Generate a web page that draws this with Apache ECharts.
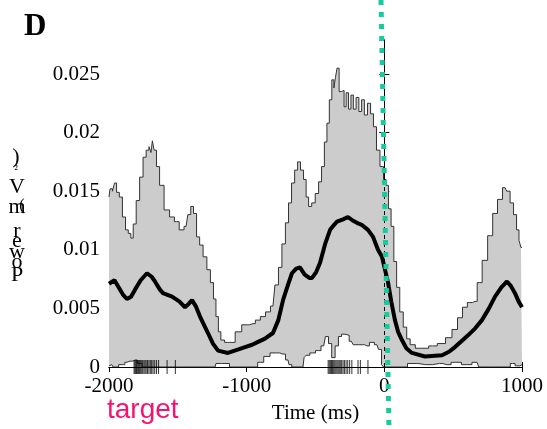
<!DOCTYPE html>
<html>
<head>
<meta charset="utf-8">
<script src="https://cdn.jsdelivr.net/npm/echarts@6/dist/echarts.min.js"></script>
<style>
  html, body { margin: 0; padding: 0; background: #fff; }
  #chart { width: 547px; height: 429px; }
</style>
</head>
<body>
<div id="chart"></div>
<script>
// upper envelope (ms, power)
const upperTimes = [-2000, -1985, -1965, -1955, -1935, -1915, -1890, -1870, -1850, -1833, -1815, -1790, -1765, -1740, -1720, -1700, -1690, -1680, -1665, -1645, -1620, -1580, -1540, -1510, -1470, -1440, -1415, -1397, -1375, -1353, -1330, -1303, -1275, -1252, -1230, -1216, -1195, -1180, -1140, -1107, -1060, -1012, -980, -954, -920, -881, -845, -809, -780, -758, -730, -707, -685, -663, -640, -620, -598, -576, -560, -540, -515, -489, -466, -446, -425, -409, -390, -373, -360, -350, -337, -320, -300, -285, -270, -250, -235, -215, -195, -175, -155, -135, -110, -90, -68, -46, -17, 5, 20, 40, 58, 80, 99, 125, 150, 175, 200, 250, 295, 350, 419, 470, 513, 550, 586, 620, 659, 690, 731, 770, 804, 840, 877, 900, 927, 950, 971, 985, 1000];
const upperValues = [0.0145, 0.0152, 0.0150, 0.0157, 0.0149, 0.0145, 0.0128, 0.0117, 0.0114, 0.0110, 0.0122, 0.0142, 0.0162, 0.0179, 0.0185, 0.0188, 0.0183, 0.0193, 0.0185, 0.0171, 0.0155, 0.0134, 0.0128, 0.0124, 0.0117, 0.0120, 0.0130, 0.0137, 0.0131, 0.0111, 0.0104, 0.0094, 0.0083, 0.0072, 0.0058, 0.0043, 0.0030, 0.0023, 0.0021, 0.0021, 0.0030, 0.0036, 0.0036, 0.0037, 0.0040, 0.0043, 0.0047, 0.0052, 0.0070, 0.0085, 0.0105, 0.0123, 0.0140, 0.0157, 0.0168, 0.0175, 0.0168, 0.0160, 0.0145, 0.0137, 0.0140, 0.0148, 0.0158, 0.0171, 0.0192, 0.0208, 0.0228, 0.0245, 0.0238, 0.0247, 0.0255, 0.0235, 0.0236, 0.0222, 0.0234, 0.0220, 0.0232, 0.0220, 0.0230, 0.0218, 0.0228, 0.0215, 0.0225, 0.0216, 0.0205, 0.0185, 0.0171, 0.0160, 0.0155, 0.0135, 0.0120, 0.0090, 0.0068, 0.0047, 0.0034, 0.0024, 0.0019, 0.0016, 0.0016, 0.0018, 0.0020, 0.0025, 0.0032, 0.0042, 0.0051, 0.0055, 0.0056, 0.0072, 0.0091, 0.0112, 0.0131, 0.0143, 0.0153, 0.0150, 0.0140, 0.0130, 0.0117, 0.0108, 0.0102];

// mean power
const meanTimes = [-2000, -1960, -1930, -1900, -1870, -1840, -1811, -1770, -1724, -1690, -1666, -1630, -1608, -1542, -1490, -1448, -1420, -1397, -1370, -1339, -1310, -1281, -1245, -1208, -1136, -1060, -1012, -960, -925, -870, -809, -770, -736, -700, -671, -640, -613, -580, -545, -525, -495, -467, -430, -394, -360, -344, -300, -264, -230, -199, -160, -119, -82, -46, -17, 27, 50, 77, 100, 128, 160, 200, 295, 419, 470, 513, 560, 608, 660, 709, 760, 804, 850, 891, 920, 949, 975, 1000];
const meanValues = [0.0071, 0.0074, 0.0068, 0.0062, 0.0058, 0.0060, 0.0066, 0.0074, 0.0080, 0.0077, 0.0073, 0.0066, 0.0063, 0.0060, 0.0056, 0.0051, 0.0054, 0.0057, 0.0052, 0.0043, 0.0036, 0.0029, 0.0020, 0.0014, 0.0012, 0.0015, 0.0017, 0.0019, 0.0021, 0.0024, 0.0029, 0.0040, 0.0057, 0.0070, 0.0080, 0.0084, 0.0085, 0.0079, 0.0076, 0.0076, 0.0081, 0.0089, 0.0105, 0.0117, 0.0122, 0.0124, 0.0126, 0.0128, 0.0125, 0.0123, 0.0121, 0.0117, 0.0111, 0.0100, 0.0094, 0.0072, 0.0056, 0.0040, 0.0030, 0.0023, 0.0016, 0.0012, 0.0009, 0.0010, 0.0013, 0.0017, 0.0022, 0.0027, 0.0033, 0.0040, 0.0050, 0.0060, 0.0068, 0.0073, 0.0069, 0.0063, 0.0056, 0.0051];

// lower envelope
const lowerTimes = [-2000, -1980, -1960, -1900, -1870, -1847, -1810, -1780, -1740, -1230, -1216, -1150, -1100, -940, -900, -852, -809, -760, -736, -700, -685, -660, -591, -575, -562, -520, -480, -440, -416, -395, -370, -345, -322, -300, -271, -240, -213, -160, -126, -90, -54, -31, -10, 0, 150, 186, 300, 400, 450, 520, 600, 673, 700, 900, 930, 970, 1000];
const lowerValues = [0.0001, 0.0002, 0.0, 0.0002, 0.0004, 0.0005, 0.0006, 0.0003, 0.0, 0.0, 0.0003, 0.0003, 0.0, 0.0, 0.0004, 0.0009, 0.0012, 0.0012, 0.0011, 0.0006, 0.0002, 0.0, 0.0, 0.0008, 0.0010, 0.0012, 0.0014, 0.0018, 0.0026, 0.0020, 0.0008, 0.0018, 0.0026, 0.0028, 0.0027, 0.0022, 0.0019, 0.0019, 0.0018, 0.0021, 0.0019, 0.0015, 0.0002, 0.0, 0.0, 0.0003, 0.0002, 0.0003, 0.0002, 0.0004, 0.0002, 0.0004, 0.0, 0.0, 0.0003, 0.0001, 0.0002];

// event times (rug)
const eventTimes = [-1818, -1812, -1806, -1800, -1794, -1786, -1778, -1770, -1762, -1755, -1746, -1738, -1730, -1720, -1710, -1700, -1690, -1680, -1668, -1655, -1640, -1578, -1518,
  -408, -400, -392, -384, -376, -368, -360, -352, -344, -336, -328, -320, -310, -300, -290, -278, -266, -252, -236, -191, -174, -119];

const xTicks = [-2000, -1000, 0, 1000];
const yTicks = [0, 0.005, 0.01, 0.015, 0.02, 0.025];
const yLabelChars = ['P', 'o', 'w', 'e', 'r', '(', 'm', 'V', '\u00b2', ')'];

const zip = (ts, vs) => ts.map((t, i) => [t, vs[i]]);
const serif = 'Liberation Serif';

const chart = echarts.init(document.getElementById('chart'));

// stacked glyphs of the y label, bottom to top
const glyphY = [275, 262, 252, 241, 231, 206, 207, 187, 170, 157];
const glyphX = [17, 17, 17, 17, 17, 22, 17, 17, 16, 16];
const glyphSize = [22, 22, 22, 22, 22, 16, 22, 22, 12, 22];
const yLabel = yLabelChars.map((c, i) => ({
  type: 'text',
  x: glyphX[i],
  y: glyphY[i],
  style: {
    text: c,
    font: glyphSize[i] + 'px "' + serif + '"',
    fill: '#000',
    align: 'center',
    verticalAlign: 'middle'
  }
}));

const option = {
  animation: false,
  grid: { left: 109, right: 25, top: 40, bottom: 62 },
  xAxis: [
    {
      type: 'value',
      min: -2000,
      max: 1000,
      interval: 1000,
      name: 'Time (ms)',
      nameLocation: 'middle',
      nameGap: 36,
      nameTextStyle: { fontFamily: serif, fontSize: 21, color: '#000' },
      axisLine: { show: true, lineStyle: { color: '#000', width: 1 } },
      axisTick: { show: true, inside: true, length: 5, lineStyle: { color: '#000' } },
      axisLabel: {
        fontFamily: serif, fontSize: 21, color: '#000', margin: 9,
        formatter: v => xTicks.includes(v) ? String(v) : ''
      },
      splitLine: { show: false }
    },
    {
      type: 'value',
      position: 'top',
      min: -2000,
      max: 1000,
      interval: 1000,
      axisLine: { show: true, lineStyle: { color: '#000', width: 1 } },
      axisTick: { show: true, inside: true, length: 5, lineStyle: { color: '#000' } },
      axisLabel: { show: false },
      splitLine: { show: false }
    }
  ],
  yAxis: [
    {
      type: 'value',
      min: 0,
      max: 0.0279,
      interval: 0.005,
      axisLine: { show: true, lineStyle: { color: '#000', width: 1 } },
      axisTick: { show: true, inside: true, length: 5, lineStyle: { color: '#000' } },
      axisLabel: {
        fontFamily: serif, fontSize: 21, color: '#000', margin: 9, showMaxLabel: false,
        formatter: v => {
          const r = +v.toFixed(3);
          return yTicks.includes(r) ? String(r) : '';
        }
      },
      splitLine: { show: false }
    },
    {
      type: 'value',
      position: 'right',
      min: 0,
      max: 0.0279,
      interval: 0.005,
      axisLine: { show: true, lineStyle: { color: '#000', width: 1 } },
      axisTick: { show: true, inside: true, length: 5, lineStyle: { color: '#000' } },
      axisLabel: { show: false },
      splitLine: { show: false }
    }
  ],
  series: [
    {
      name: 'upper',
      type: 'line',
      step: 'middle',
      data: zip(upperTimes, upperValues),
      showSymbol: false,
      lineStyle: { color: '#333', width: 1 },
      areaStyle: { color: '#cccccc', opacity: 1 },
      z: 2
    },
    {
      name: 'lower',
      type: 'line',
      step: 'middle',
      data: zip(lowerTimes, lowerValues),
      showSymbol: false,
      lineStyle: { color: '#333', width: 1 },
      areaStyle: { color: '#ffffff', opacity: 1 },
      z: 3
    },
    {
      name: 'mean',
      type: 'line',
      data: zip(meanTimes, meanValues),
      showSymbol: false,
      lineStyle: { color: '#000', width: 4 },
      z: 4,
      markLine: {
        silent: true,
        symbol: 'none',
        label: { show: false },
        lineStyle: { color: '#000', width: 1, type: [4, 4] },
        data: [{ xAxis: 0 }]
      }
    },
    {
      name: 'events',
      type: 'scatter',
      data: eventTimes.map(t => [t, 0]),
      symbol: 'rect',
      symbolSize: [1, 14],
      itemStyle: { color: '#000' },
      clip: false,
      z: 5
    }
  ],
  graphic: [
    {
      type: 'text',
      left: 24,
      top: 11,
      style: { text: 'D', font: 'bold 31px "' + serif + '"', fill: '#000' }
    },
    {
      type: 'text',
      left: 107,
      top: 396,
      style: { text: 'target', font: '28px "Liberation Sans"', fill: '#f5136f' }
    },
    {
      type: 'line',
      shape: { x1: 381, y1: 0, x2: 389, y2: 429 },
      style: { stroke: '#16cc9e', lineWidth: 5, lineDash: [5, 7] },
      z: 100
    }
  ].concat(yLabel)
};

chart.setOption(option);
</script>
</body>
</html>
